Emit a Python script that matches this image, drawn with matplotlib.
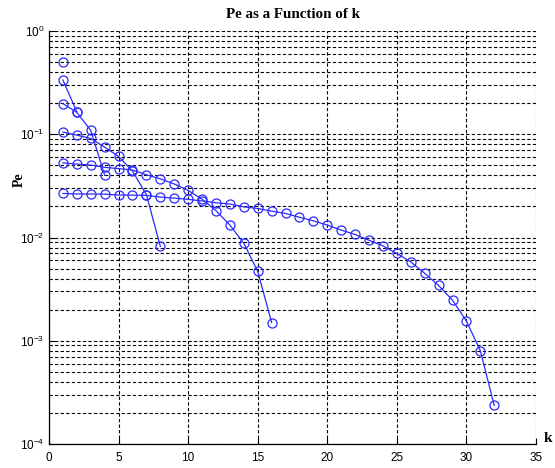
import matplotlib
matplotlib.use("Agg")
import matplotlib.pyplot as plt
from matplotlib.ticker import LogLocator, NullFormatter

plt.rcParams['mathtext.fontset'] = 'custom'
plt.rcParams['mathtext.rm'] = 'Liberation Sans'
plt.rcParams['mathtext.it'] = 'Liberation Sans'

# Data
k1 = [1]
pe1 = [0.5]

k2 = [1, 2]
pe2 = [0.335, 0.165]

k4 = [1, 2, 3, 4]
pe4 = [0.198, 0.163, 0.109, 0.040]

k8 = [1, 2, 3, 4, 5, 6, 7, 8]
pe8 = [0.105, 0.098, 0.091, 0.075, 0.061, 0.044, 0.026, 0.0082]

k16 = list(range(1, 17))
pe16 = [0.0528, 0.0514, 0.0503, 0.0478, 0.0465, 0.045, 0.0405, 0.037,
        0.033, 0.0286, 0.0235, 0.0182, 0.0132, 0.0088, 0.0047, 0.0015]

k32 = list(range(1, 33))
pe32 = [0.0267, 0.0264, 0.0264, 0.0263, 0.0258, 0.0257, 0.0256, 0.0246,
        0.0241, 0.0234, 0.0226, 0.0217, 0.0211, 0.0198, 0.0191, 0.0180,
        0.0171, 0.0157, 0.0145, 0.0132, 0.0118, 0.0107, 0.0094, 0.0083,
        0.0070, 0.0058, 0.0045, 0.00343, 0.00247, 0.00155, 0.00080, 0.000236]

series = [(k1, pe1), (k2, pe2), (k4, pe4), (k8, pe8), (k16, pe16), (k32, pe32)]

xticks = [0, 5, 10, 15, 20, 25, 30, 35]

fig = plt.figure(figsize=(5.55, 4.68), dpi=100)
ax = fig.add_axes([49/555, 1-444/468, (536-49)/555, (444-31)/468])

for kk, pp in series:
    ax.semilogy(kk, pp, '-o', color='#2a2aff', lw=0.9, ms=6.5, mfc='none',
                mec='#2a2aff', mew=0.9)

ax.set_xlim(0, 35)
ax.set_ylim(1e-4, 1e0)
ax.set_xticks(xticks)
ax.yaxis.set_major_locator(LogLocator(base=10, numticks=10))
ax.yaxis.set_minor_locator(LogLocator(base=10, subs=range(2, 10), numticks=20))
ax.yaxis.set_minor_formatter(NullFormatter())

ax.grid(True, which='major', axis='both', color='black', ls=(0, (3, 2)), lw=0.8)
ax.grid(True, which='minor', axis='y', color='black', ls=(0, (3, 2)), lw=0.8)

for s in ['top', 'right']:
    ax.spines[s].set_visible(False)
for s in ['left', 'bottom']:
    ax.spines[s].set_linewidth(0.9)

ax.tick_params(which='both', direction='in', labelsize=8.5, colors='black')
ax.tick_params(which='major', length=4)
ax.tick_params(axis='x', which='major', pad=6)
ax.tick_params(which='minor', length=2.5)
for lab in ax.get_xticklabels() + ax.get_yticklabels():
    lab.set_family('Liberation Sans')

ax.set_title('Pe as a Function of k', family='Liberation Serif', weight='bold',
             fontsize=10.8, pad=9)
ax.set_ylabel('Pe', family='Liberation Serif', weight='bold', fontsize=10)
ax.yaxis.set_label_coords(-0.047, 0.639)
fig.text(548/555, 1-438/468, 'k', family='Liberation Serif', weight='bold',
         fontsize=11, ha='center', va='center')

fig.savefig('out.png', dpi=100)
